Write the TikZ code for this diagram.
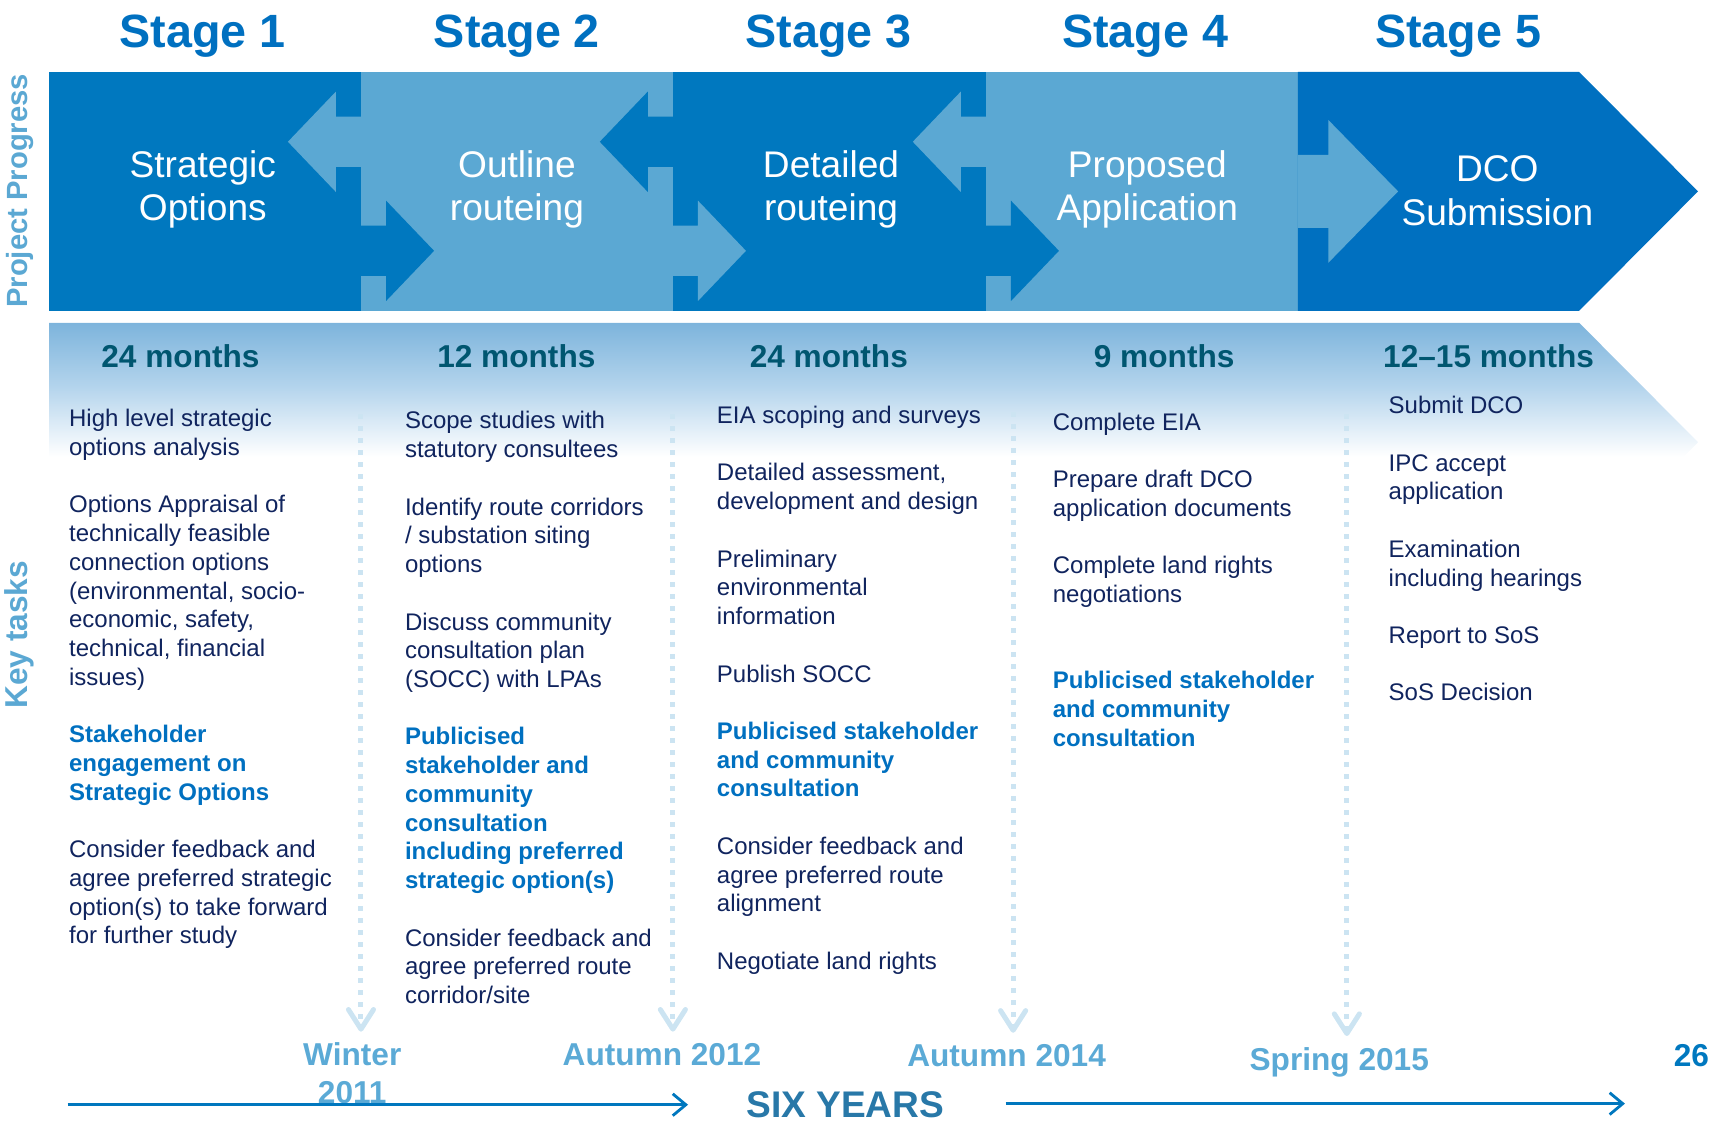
\documentclass[tikz,border=0pt]{standalone}
\usepackage{fontspec}
\setmainfont{Liberation Sans}
\usetikzlibrary{arrows.meta, positioning}

\definecolor{stagedark}{RGB}{0,120,191}
\definecolor{stagefive}{RGB}{0,112,192}
\definecolor{stagelight}{RGB}{91,168,211}
\definecolor{headblue}{RGB}{0,112,192}
\definecolor{monthteal}{RGB}{0,86,112}
\definecolor{tasknavy}{RGB}{16,36,94}
\definecolor{taskblue}{RGB}{0,112,192}
\definecolor{datelight}{RGB}{91,170,214}
\definecolor{yearsblue}{RGB}{40,120,168}
\definecolor{dotblue}{RGB}{204,228,242}
\definecolor{bandtop}{RGB}{125,180,220}
\definecolor{bandmid}{RGB}{178,211,236}
\definecolor{lineblue}{RGB}{0,119,190}

\pgfdeclareverticalshading{keyband}{100bp}{color(0bp)=(white); color(47bp)=(white); color(62bp)=(bandmid); color(75bp)=(bandtop); color(100bp)=(bandtop)}

\newcommand{\hl}[1]{\textcolor{taskblue}{\bfseries #1}}
\newcommand{\taskgap}{\\[13.17pt]}

\begin{document}
\begin{tikzpicture}[
    x=0.5pt, y=-0.5pt,
    stagehead/.style={font=\fontsize{21.4pt}{25pt}\selectfont\bfseries, text=headblue, anchor=base, inner sep=0},
    boxtext/.style={font=\fontsize{17pt}{20pt}\selectfont, text=white, align=center, anchor=north, inner sep=0},
    months/.style={font=\fontsize{14.5pt}{17pt}\selectfont\bfseries, text=monthteal, anchor=base, inner sep=0},
    tasks/.style={font=\fontsize{11pt}{13.17pt}\selectfont, text=tasknavy, align=left, anchor=north west, inner sep=0},
    sidelabel/.style={text=stagelight, rotate=90, inner sep=0},
    datelabel/.style={font=\fontsize{14.5pt}{17pt}\selectfont\bfseries, text=datelight, align=center, anchor=north, inner sep=0},
    divider/.style={dotblue, line width=2.3pt, dash pattern=on 2.3pt off 3.2pt, -{Straight Barb[length=9pt, width=11.5pt, round]}, shorten >=5pt},
    tline/.style={lineblue, line width=1.3pt, -{Straight Barb[length=6pt, width=10pt]}}
]
    \useasboundingbox (0,0) rectangle (1568,1031);

    % Project progress band
    \fill[stagedark] (45,66) rectangle (331,285);
    \fill[stagelight] (331,66) rectangle (617,285);
    \fill[stagedark] (617,66) rectangle (904,285);
    \fill[stagelight] (904,66) rectangle (1190,285);
    \fill[stagefive] (1190,66) -- (1448,66) -- (1557,175.5) -- (1448,285) -- (1190,285) -- cycle;

    % Key tasks band
    \shade[shading=keyband] (45,296) -- (1448,296) -- (1557,405.5) -- (1448,515) -- (45,515) -- cycle;

    % Arrows between stages
    \foreach \b/\cl/\cr in {331/stagelight/stagedark, 617/stagedark/stagelight, 904/stagelight/stagedark} {
        \fill[\cl] (\b,107) -- ++(-23,0) -- ++(0,-23) -- ++(-44,46) -- ++(44,46) -- ++(0,-23) -- ++(23,0) -- cycle;
        \fill[\cr] (\b,207) -- ++(23,0) -- ++(0,-23) -- ++(44,46) -- ++(-44,46) -- ++(0,-23) -- ++(-23,0) -- cycle;
    }
    \fill[stagelight] (1190,142) -- (1218,142) -- (1218,110) -- (1282,175.5) -- (1218,241) -- (1218,209) -- (1190,209) -- cycle;

    % Stage headings
    \node[stagehead] (head1) at (186,44) {Stage 1};
    \node[stagehead] (head2) at (474,44) {Stage 2};
    \node[stagehead] (head3) at (760,44) {Stage 3};
    \node[stagehead] (head4) at (1050,44) {Stage 4};
    \node[stagehead] (head5) at (1337,44) {Stage 5};

    % Stage names
    \node[boxtext] (strategic) at (186,137.5) {Strategic\\Options};
    \node[boxtext] (outline) at (474,137.5) {Outline\\routeing};
    \node[boxtext] (detailed) at (762,137.5) {Detailed\\routeing};
    \node[boxtext] (proposed) at (1052,137.5) {Proposed\\Application};
    \node[boxtext] (dco) at (1373,142.5) {DCO\\Submission};

    % Durations
    \node[months] (dur1) at (165.5,337) {24 months};
    \node[months] (dur2) at (473.5,337) {12 months};
    \node[months] (dur3) at (760,337) {24 months};
    \node[months] (dur4) at (1067.5,337) {9 months};
    \node[months] (dur5) at (1365,337) {12--15 months};

    % Side labels
    \node[sidelabel, font=\fontsize{13.4pt}{16pt}\selectfont\bfseries] (progress) at (18,175) {Project Progress};
    \node[sidelabel, font=\fontsize{14.5pt}{17pt}\selectfont\bfseries] (keytasks) at (18,582) {Key tasks};

    % Task lists
    \node[tasks] (tasks1) at (63,375) {High level strategic\\
        options analysis\taskgap
        Options Appraisal of\\
        technically feasible\\
        connection options\\
        (environmental, socio-\\
        economic, safety,\\
        technical, financial\\
        issues)\taskgap
        \hl{Stakeholder}\\
        \hl{engagement on}\\
        \hl{Strategic Options}\taskgap
        Consider feedback and\\
        agree preferred strategic\\
        option(s) to take forward\\
        for further study};
    \node[tasks] (tasks2) at (371,377) {Scope studies with\\
        statutory consultees\taskgap
        Identify route corridors\\
        / substation siting\\
        options\taskgap
        Discuss community\\
        consultation plan\\
        (SOCC) with LPAs\taskgap
        \hl{Publicised}\\
        \hl{stakeholder and}\\
        \hl{community}\\
        \hl{consultation}\\
        \hl{including preferred}\\
        \hl{strategic option(s)}\taskgap
        Consider feedback and\\
        agree preferred route\\
        corridor/site};
    \node[tasks] (tasks3) at (657,372) {EIA scoping and surveys\taskgap
        Detailed assessment,\\
        development and design\taskgap
        Preliminary\\
        environmental\\
        information\taskgap
        Publish SOCC\taskgap
        \hl{Publicised stakeholder}\\
        \hl{and community}\\
        \hl{consultation}\taskgap
        Consider feedback and\\
        agree preferred route\\
        alignment\taskgap
        Negotiate land rights};
    \node[tasks] (tasks4) at (965,378) {Complete EIA\taskgap
        Prepare draft DCO\\
        application documents\taskgap
        Complete land rights\\
        negotiations\\[26.34pt]
        \hl{Publicised stakeholder}\\
        \hl{and community}\\
        \hl{consultation}};
    \node[tasks] (tasks5) at (1273,363) {Submit DCO\taskgap
        IPC accept\\
        application\taskgap
        Examination\\
        including hearings\taskgap
        Report to SoS\taskgap
        SoS Decision};

    % Milestones
    \node[datelabel] (win11) at (323,956) {Winter\\2011};
    \node[datelabel] (aut12) at (607,956) {Autumn 2012};
    \node[datelabel] (aut14) at (923,957) {Autumn 2014};
    \node[datelabel] (spr15) at (1228,960) {Spring 2015};
    \node[datelabel, text=stagedark] (pagenum) at (1551,957) {26};

    \coordinate (div1) at (331,380);
    \coordinate (div2) at (617,380);
    \coordinate (div3) at (929,378);
    \coordinate (div4) at (1235,380);
    \draw[divider] (div1) -- (div1 |- win11.north);
    \draw[divider] (div2) -- (div2 |- aut12.north);
    \draw[divider] (div3) -- (div3 |- aut14.north);
    \draw[divider] (div4) -- (div4 |- spr15.north);

    % Timeline
    \node[font=\fontsize{17pt}{20pt}\selectfont\bfseries, text=yearsblue, anchor=base, inner sep=0] (sixyears) at (775,1025) {SIX YEARS};
    \coordinate (tlstart) at (62,1013);
    \coordinate (tlend) at (1490,1012);
    \draw[tline, shorten >=26.5pt] (tlstart) -- (tlstart -| sixyears.west);
    \draw[tline, shorten <=28pt] (sixyears.east |- tlend) -- (tlend);

\end{tikzpicture}
\end{document}
